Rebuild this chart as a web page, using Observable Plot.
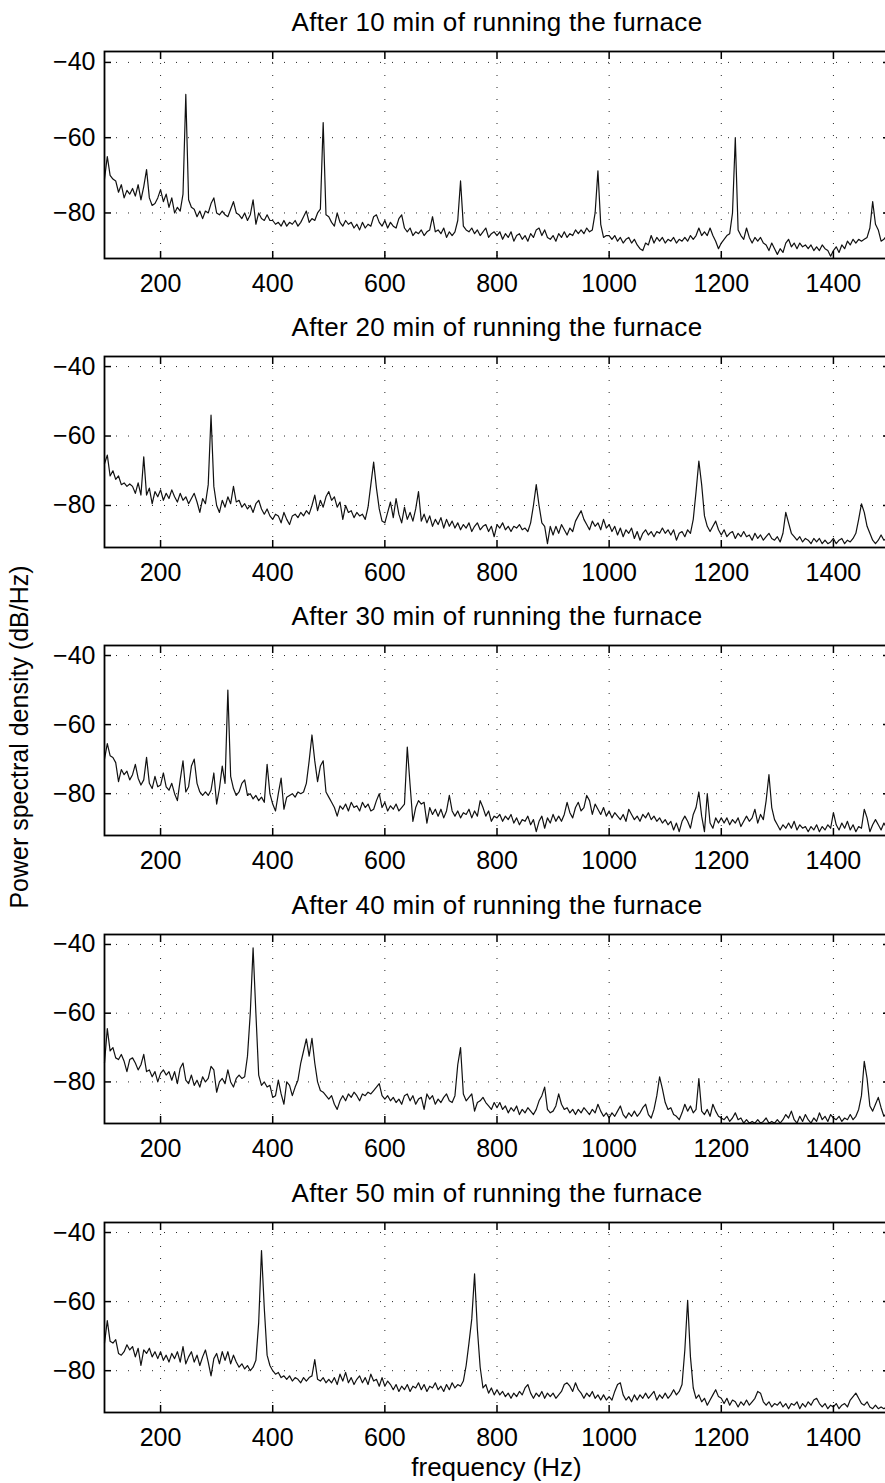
<!DOCTYPE html>
<html>
<head>
<meta charset="utf-8">
<script src="https://cdn.jsdelivr.net/npm/d3@7"></script>
<script src="https://cdn.jsdelivr.net/npm/@observablehq/plot@0.6"></script>
<style>
  html, body { margin: 0; padding: 0; background: #fff; overflow: hidden; width: 885px; height: 1483px; }
  #root { position: relative; width: 890px; height: 1483px; font-family: "Liberation Sans", Arial, Helvetica, sans-serif; color: #000; }
  .panel { position: absolute; left: 0; }
  .lbl { position: absolute; white-space: nowrap; font-size: 25px; line-height: 25px; }
</style>
</head>
<body>
<div id="root"></div>
<script>
// ---------------- data ----------------
const freqStart = 100;   // Hz, first bin
const freqStep = 5;      // Hz between bins
const xTicks = [200, 400, 600, 800, 1000, 1200, 1400];
const yTicks = [-40, -60, -80];
const titles = [
  "After 10 min of running the furnace",
  "After 20 min of running the furnace",
  "After 30 min of running the furnace",
  "After 40 min of running the furnace",
  "After 50 min of running the furnace"
];
const xLabel = "frequency (Hz)";
const yLabel = "Power spectral density (dB/Hz)";

const psd10 = [
-71,-65,-70,-71,-71.5,-74.5,-72.5,-76,-74,-75,-73.5,-75.5,-72.5,-76.5,-73,-68.5,-76,-78,-77.5,-76,
-73.8,-77,-75,-78.5,-76,-80,-78.5,-79.5,-75,-48.5,-76.5,-78.5,-79,-81,-79.5,-81.5,-79.5,-80,-77.5,-76,
-80,-80.5,-79.5,-80.5,-81,-79,-77,-80,-80.5,-81.5,-80,-82,-80.5,-76.5,-83,-80,-81.5,-82,-80.5,-82,
-82,-83,-82.5,-83.5,-82,-83.5,-82.5,-83,-82,-83.5,-82.5,-81,-79.5,-82.5,-81.5,-82,-80,-79,-56,-80.5,
-81,-82.5,-83.5,-80,-82.5,-83.5,-82,-83,-82.5,-84,-83,-84.5,-82.5,-84,-83,-83.5,-81,-80.5,-82.5,-83.5,
-82,-84,-82.5,-83.5,-84,-81.5,-80.5,-84,-85,-84,-86,-85,-85.5,-84.5,-86,-85,-84.5,-81,-85,-84.5,
-85.5,-84,-86.5,-85,-86,-85,-82,-71.5,-83.5,-84.5,-85,-84,-85.5,-84.5,-86,-85,-84,-86.5,-85.5,-85,
-86,-85,-87,-85.5,-86.5,-85,-87.5,-86,-85.5,-87,-86,-87.5,-85.5,-86.5,-84.5,-84,-86,-84.5,-86.5,-87,
-86,-87.5,-85.5,-86.5,-85,-86.5,-85.5,-86,-84.5,-85.5,-84.5,-85.5,-84,-85,-84.5,-80,-68.8,-83,-86.5,-86,
-86,-87,-86,-87.5,-86.5,-88,-87,-86.5,-88,-87,-88.5,-89.5,-90,-88,-88.5,-86,-88,-86.5,-87.5,-86.5,
-88,-87,-87.5,-86.5,-88,-87,-87.5,-86.5,-87.5,-86,-87,-86,-84,-86,-85,-86,-84,-86,-87.5,-89.5,
-88,-87,-86,-85.5,-80,-60,-84.5,-86,-87,-84,-86.5,-88,-86.5,-87.5,-86.5,-88,-88.5,-90,-88,-89.5,
-91,-89.5,-90.5,-88,-87,-89,-88,-89.5,-88,-89,-88.5,-89.5,-88.5,-90,-89,-90,-88.5,-89.5,-90,-91.5,
-90,-89,-90.5,-88.5,-89.5,-87.5,-88.5,-87,-88,-87,-87.5,-87,-86.5,-84,-77,-83,-84.5,-87.5,-87,-86,-87
];
const psd20 = [
-68,-65.5,-71.5,-70,-72.5,-71.5,-74,-73.5,-74.5,-73.8,-74.5,-76.5,-73.5,-77,-66,-77,-75,-79.5,-76,-77.5,
-75.5,-78.5,-76.5,-78,-75.5,-77.5,-79,-76.5,-78.5,-77.5,-79.5,-78,-76.5,-79,-82,-78,-79.5,-74,-54,-74.5,
-80,-82,-78.5,-80.5,-77.5,-79.5,-74.5,-79,-78.5,-80.5,-79.5,-81,-80,-82,-79.5,-78.5,-81,-82.5,-81,-83,
-84,-82.5,-83,-85,-82,-84,-85.5,-83,-82.5,-83.5,-82,-83,-81.5,-82.5,-80,-77,-81.5,-78.5,-80.5,-77.5,
-76,-78.5,-77.5,-80.5,-79,-84,-80,-82,-81.5,-83.5,-82,-83,-82.5,-84,-80.5,-74,-67.5,-75,-81,-84.5,
-85,-82,-79,-83.5,-78,-82.5,-85,-80.5,-84,-82,-84.5,-81,-76,-84.5,-82.5,-85,-83,-86,-84,-85.5,
-83.5,-86.5,-84,-86,-84.5,-86.5,-85,-87,-85.5,-86.5,-85,-87.5,-86,-85,-87,-86,-85.5,-87.5,-86,-89,
-85.5,-86.5,-85,-87,-86,-87.5,-86,-86.5,-85.5,-87,-86.5,-87.5,-85,-80,-74,-80,-85,-86,-91,-86,
-88.5,-86,-88,-85.5,-87,-88.5,-86.5,-87.5,-84.5,-83,-81.5,-84,-85.5,-87,-84.5,-86,-85,-87,-84,-86.5,
-85.5,-87.5,-86,-88.5,-86.5,-89,-87,-88,-86.5,-89.5,-87.5,-90,-88,-87,-88.5,-87.5,-89,-87.5,-88,-86.5,
-88,-87,-88.5,-87,-90,-88,-87.5,-89,-87,-88,-84,-76,-67.2,-74,-83,-86,-87.5,-86,-84.5,-87,
-88.5,-87,-89,-88,-87.5,-89.5,-88,-89,-87.5,-89,-88.5,-90,-88,-89.5,-88.5,-90,-89,-88,-89.5,-90,
-89,-90.5,-88,-82,-85,-88,-89,-90,-89,-90.5,-89.5,-90,-91,-89.5,-90.5,-89.5,-91,-90,-91,-90.5,
-89.5,-91,-90,-89.5,-91,-90,-90.5,-89.5,-88,-84,-79.5,-82,-86,-88,-90,-91,-90,-88.5,-90,-89.5,-90
];
const psd30 = [
-70,-65.5,-69,-69.5,-71,-76.5,-73,-74.5,-73.5,-76,-74.5,-71.5,-75.5,-77.5,-76,-69.5,-77,-78.5,-75,-78,
-77.5,-74,-78,-79,-77,-80,-82,-76,-70.5,-79.5,-78,-72,-70,-77,-79.5,-80.5,-79.5,-80.5,-79,-74,
-83,-78.5,-72,-77,-50,-75,-78.5,-80.5,-79.5,-77,-76,-80.5,-80,-81.5,-80.5,-82,-81,-82.5,-71.5,-80,
-83,-85,-80,-75.5,-84.5,-81,-80.5,-80,-81,-79.5,-80,-79.5,-77,-70.5,-63,-70.5,-76.5,-72,-70.5,-79.5,
-81,-82.5,-84,-86.5,-83.5,-84.5,-83,-85,-82.5,-84,-83.5,-85,-82.5,-84,-83,-85,-84.5,-82,-80,-84,
-82.5,-85,-83.5,-84.5,-83,-85,-84,-83,-66.5,-77.5,-88,-84,-82,-83,-82.5,-88.5,-84,-86,-84.5,-86.5,
-84.5,-87,-85,-80.5,-85,-86.5,-85,-87,-85.5,-86,-84.5,-87,-85,-86.5,-82,-84,-86.5,-85,-88,-86.5,
-87,-86,-88,-86.5,-87.5,-86,-88.5,-87,-89,-87.5,-88,-86.5,-89,-87.5,-91,-88,-86.5,-90,-87,-88.5,
-86,-88,-86.5,-88,-86,-82.5,-85.5,-87,-84,-82.5,-85,-84,-80.5,-82,-86,-83,-84.5,-86,-84,-86.5,
-85,-87,-85.5,-86.5,-87.5,-86,-88,-84.5,-86,-87.5,-86.5,-88,-86,-87,-85.5,-87.5,-86.5,-88,-87,-88.5,
-87.5,-89,-88,-90.5,-88.5,-91,-88,-86.5,-88,-90,-86,-84,-79.5,-86.5,-91,-80,-88.5,-90,-87,-88.5,
-87,-88.5,-87,-89,-87.5,-88.5,-87,-89.5,-88,-86.5,-88,-87,-84.5,-88.5,-86,-87.5,-82,-74.5,-84,-87.5,
-89,-90.5,-89,-90,-88.5,-90,-88,-90.5,-89,-90,-89.5,-91,-89.5,-90.5,-89,-91,-89.5,-90.5,-89,-90,
-85.5,-89,-90.5,-88.5,-90,-88,-90.5,-89,-91,-89.5,-90,-84.5,-87,-91,-89,-87.5,-89,-90.5,-88.5,-90,-89.5
];
const psd40 = [
-74.5,-64.5,-71,-70,-73,-73.5,-72,-74,-77,-73.5,-73,-74.5,-76.5,-75,-72,-77,-76.5,-78.5,-77,-80,
-77.5,-76.5,-78,-77,-79.5,-77,-80.5,-76,-74.5,-79.5,-80.5,-78,-81,-79.5,-81.5,-78.5,-80,-79,-75.5,-76.5,
-83,-80,-79,-80.5,-76.5,-80,-81.5,-79,-78,-79,-78.5,-72.5,-60,-41,-60,-78,-81,-80,-81.5,-81,
-84.5,-84,-79.5,-83.5,-86.5,-80,-81,-84,-81.5,-79.5,-74.5,-71,-67.5,-72.5,-67.3,-74.5,-80,-82.5,-83,-84,
-85,-84,-86.5,-88,-85.5,-84,-85.5,-83.5,-84.5,-83,-84,-85.5,-83.5,-84,-83,-83.5,-82.5,-81.5,-80.5,-84,
-85,-84,-85.5,-84.5,-86,-85,-86.5,-84,-83.5,-85.5,-84,-86.5,-85,-84.5,-88,-83.5,-85,-84,-86.5,-85,
-86,-84.5,-83.5,-85.5,-86,-84,-75,-70,-83.5,-85.5,-84.5,-83.5,-88.5,-86,-85.5,-84.5,-86,-87,-88,-86,
-87.5,-86,-88,-87,-89,-87.5,-88.5,-87,-89.5,-88,-89,-87.5,-88.5,-89.5,-88,-85.5,-84,-81.5,-88,-89,
-88.5,-87,-83.5,-86.5,-88,-87.5,-89,-88,-89.5,-88,-89,-87.5,-88.5,-89.5,-88,-89,-86.5,-88.5,-90,-89,
-90.5,-89,-90,-88.5,-87,-89.5,-90.5,-89,-90,-88.5,-90,-89,-87.5,-86.5,-89.5,-90.5,-88,-84,-78.5,-82,
-86,-88,-87.5,-89.5,-90,-91,-89,-86.5,-88.5,-87,-89,-88,-79,-88.5,-89.5,-88,-90,-86.5,-88.5,-90,
-90.5,-91,-90,-91.5,-90.5,-89,-91,-90.5,-92,-91,-92,-91.5,-92,-91,-92,-91.5,-90.5,-92,-91.5,-92,
-91,-92,-91,-89.5,-90.5,-88.5,-91,-92,-90,-91.5,-89.5,-91,-92,-90.5,-91.5,-89,-91,-90,-91.5,-89.5,
-90.5,-91,-90,-91.5,-90.5,-91,-89.5,-91,-90,-88,-84,-74,-79,-87,-88.5,-86.5,-84.5,-87.5,-90,-89,-90
];
const psd50 = [
-72,-65.5,-71.5,-72,-71,-75,-75.5,-74.5,-72.5,-74,-73,-76,-73.5,-78.5,-74,-75,-73.5,-76,-74.5,-76.5,
-74.5,-77,-75.5,-77.5,-75,-76.5,-74.5,-77.5,-73,-78,-76,-74.5,-77.5,-75.5,-78.5,-76,-74,-77.5,-81.5,-76.5,
-75,-78,-74.5,-77,-74.5,-78,-75.5,-77.5,-79,-78,-79.5,-78.5,-80,-79,-77,-66,-45.2,-62,-75.5,-78.5,
-80,-81,-80.5,-82,-81.5,-82.5,-81.5,-83,-82,-82.5,-83.5,-82,-83,-82,-81.5,-76.8,-82.5,-83,-82,-83.5,
-82.5,-83.5,-82,-84,-81,-83,-80.5,-83.5,-82,-84,-82.5,-81.5,-83.5,-82,-84,-81,-83,-82.5,-84.5,-82,
-84.5,-83,-84,-85.5,-84,-86,-84.5,-85.5,-84,-86,-84.5,-85,-83.5,-85.5,-84,-86,-84.5,-85,-83.5,-85.5,
-84.5,-86,-84,-85.5,-83.5,-85,-84,-84.5,-83,-78.5,-72,-65,-52,-68,-79,-85,-84,-86.5,-85,-87,
-85.5,-87,-86,-87.5,-86.5,-88,-86.5,-87.5,-86,-87,-85,-84,-86.5,-88,-86.5,-87.5,-86,-88,-86.5,-87.5,
-86.5,-88,-87,-86,-84,-83.5,-84.5,-86,-83.5,-85.5,-86.5,-88,-86.5,-87.5,-86,-88,-87,-88.5,-87,-88.5,
-87.5,-88.5,-86,-84,-83.5,-87,-88.5,-87.5,-89,-87,-88.5,-87,-88,-86.5,-88,-87,-86,-88.5,-87,-88,
-86.5,-88,-87,-85.5,-87,-86,-84,-74,-59.6,-76,-85,-88,-87,-89,-88,-90,-88.5,-87,-85.5,-87.5,
-88,-89.5,-88,-90,-88.5,-89,-90.5,-89,-90,-88.5,-90,-89,-88,-86,-86.5,-89,-90,-89,-90.5,-89.5,
-90,-89,-90.5,-89.5,-91,-89.5,-90,-89,-91,-89.5,-90.5,-89,-90,-88.5,-88,-89.5,-90.5,-89.5,-91,-90,
-90.5,-89.5,-91,-90,-89.5,-90.5,-88.5,-87.5,-86.5,-88,-89.5,-90,-89,-90.5,-91,-90,-91,-90.5,-91,-90.5,-91
];

// ---------------- layout ----------------
const seriesList = [psd10, psd20, psd30, psd40, psd50];
const frameTops = [51, 356, 645, 934, 1222];
const frameHeights = [207, 191, 190, 189, 190];
const W = 890, ML = 104, MR = 1, MT = 50, MB = 45;
const fontFamily = '"Liberation Sans", Arial, Helvetica, sans-serif';
const root = document.getElementById("root");
const minus = d => (d < 0 ? "\u2212" + Math.abs(d) : String(d));

seriesList.forEach((series, k) => {
  const data = series.map((v, i) => ({f: freqStart + i * freqStep, v}));
  const chart = Plot.plot({
    width: W,
    height: MT + frameHeights[k] + MB,
    marginLeft: ML, marginRight: MR, marginTop: MT, marginBottom: MB,
    x: {domain: [100, 1500]},
    y: {domain: [-92.1, -37.1]},
    style: {fontFamily, fontSize: "25px", maxWidth: "none", background: "transparent", overflow: "visible", color: "#000"},
    marks: [
      Plot.gridX(xTicks, {stroke: "#000", strokeOpacity: 0.85, strokeWidth: 1, strokeDasharray: "1,11"}),
      Plot.gridY(yTicks, {stroke: "#000", strokeOpacity: 0.85, strokeWidth: 1, strokeDasharray: "1,11"}),
      Plot.line(data, {x: "f", y: "v", stroke: "#111", strokeWidth: 1.2}),
      Plot.axisX(xTicks, {anchor: "bottom", tickSize: 0, tickPadding: 16, fontSize: 25, tickFormat: d => String(d), label: null}),
      Plot.axisX(xTicks, {anchor: "bottom", tickSize: -7, strokeWidth: 1.5, fill: "none"}),
      Plot.axisX(xTicks, {anchor: "top", tickSize: -7, strokeWidth: 1.5, fill: "none"}),
      Plot.axisY(yTicks, {anchor: "left", tickSize: 0, tickPadding: 9, fontSize: 25, tickFormat: minus, label: null}),
      Plot.axisY(yTicks, {anchor: "left", tickSize: -7, strokeWidth: 1.5, fill: "none"}),
      Plot.axisY(yTicks, {anchor: "right", tickSize: -7, strokeWidth: 1.5, fill: "none"}),
      Plot.frame({stroke: "#000", strokeWidth: 1.8}),
      Plot.text([titles[k]], {text: d => d, frameAnchor: "top", lineAnchor: "bottom", dy: -21, fontSize: 26, fill: "#000", style: "letter-spacing:0.3px"})
    ]
  });
  chart.classList.add("panel");
  chart.style.top = (frameTops[k] - MT) + "px";
  chart.querySelectorAll("g[aria-label='text'] text").forEach(t => t.style.letterSpacing = "0.3px");
  root.appendChild(chart);
});

// axis titles
const yl = document.createElement("div");
yl.className = "lbl";
yl.textContent = yLabel;
yl.style.left = "19px";
yl.style.top = "737px";
yl.style.transform = "translate(-50%, -50%) rotate(-90deg)";
root.appendChild(yl);

const xl = document.createElement("div");
xl.className = "lbl";
xl.textContent = xLabel;
xl.style.fontSize = "26px";
xl.style.left = ((ML + W - MR) / 2) + "px";
xl.style.top = "1455px";
xl.style.transform = "translateX(-50%)";
root.appendChild(xl);
</script>
</body>
</html>
